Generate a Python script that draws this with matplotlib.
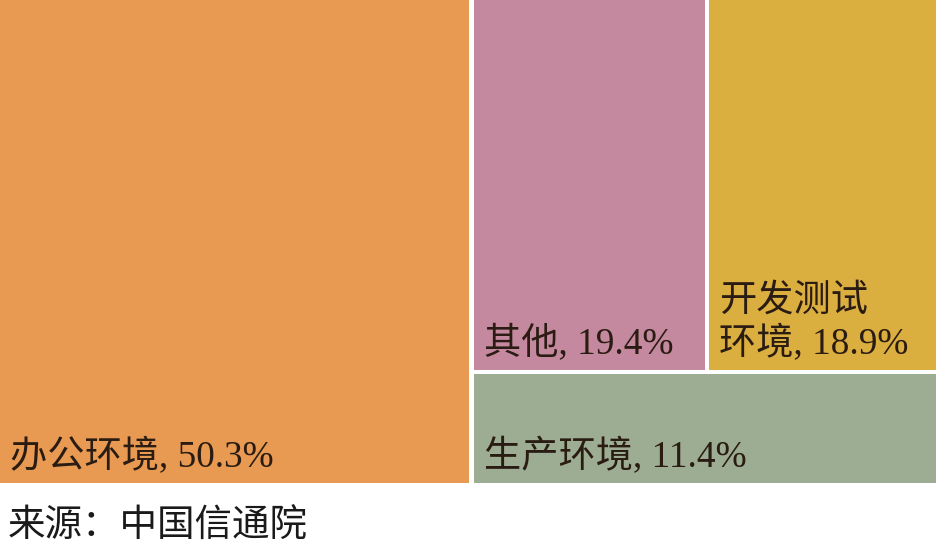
import matplotlib
matplotlib.use("Agg")
import matplotlib.pyplot as plt
from matplotlib.patches import Rectangle

plt.rcParams['font.family'] = ['Liberation Serif', 'Noto Sans CJK SC']

labels = ["办公环境", "其他", "开发测试\n环境", "生产环境"]
values = [50.3, 19.4, 18.9, 11.4]
colors = ["#E89A52", "#C4889F", "#DBAE40", "#9CAD93"]
source = "来源：中国信通院"

W, H = 937.0, 483.0
total = sum(values)
gap = 4.5

# layout: first item full-height column, then remaining split into top row (2 items) and bottom strip
rects = []
w0 = W * values[0] / total
rects.append((0, 0, w0, H))
rest = total - values[0]
h_bottom = H * values[3] / rest
h_top = H - h_bottom
top_sum = values[1] + values[2]
w1 = (W - w0) * values[1] / top_sum
rects.append((w0, h_bottom, w1, h_top))
rects.append((w0 + w1, h_bottom, W - w0 - w1, h_top))
rects.append((w0, 0, W - w0, h_bottom))

fig = plt.figure(figsize=(9.37, 5.48), dpi=100)
ax = fig.add_axes([0, (548 - 483) / 548, 1, 483 / 548])
ax.set_xlim(0, W)
ax.set_ylim(0, H)
ax.axis('off')

for (x, y, w, h), lab, v, c in zip(rects, labels, values, colors):
    x0 = x + (gap / 2 if x > 0 else 0)
    y0 = y + (gap / 2 if y > 0 else 0)
    x1 = x + w - (gap / 2 if x + w < W - 0.5 else 0)
    y1 = y + h - (gap / 2 if y + h < H - 0.5 else 0)
    ax.add_patch(Rectangle((x0, y0), x1 - x0, y1 - y0, facecolor=c, edgecolor='none'))
    ax.text(x0 + 10, y0 + 8, f"{lab}, {v}%", fontsize=26.8, color="#2a1c12",
            ha='left', va='bottom', linespacing=1.22)

fig.text(8 / 937, 1 - 527 / 548, source, fontsize=27, color="#1a1a1a",
         ha='left', va='center')

fig.savefig("out.png", dpi=100)
